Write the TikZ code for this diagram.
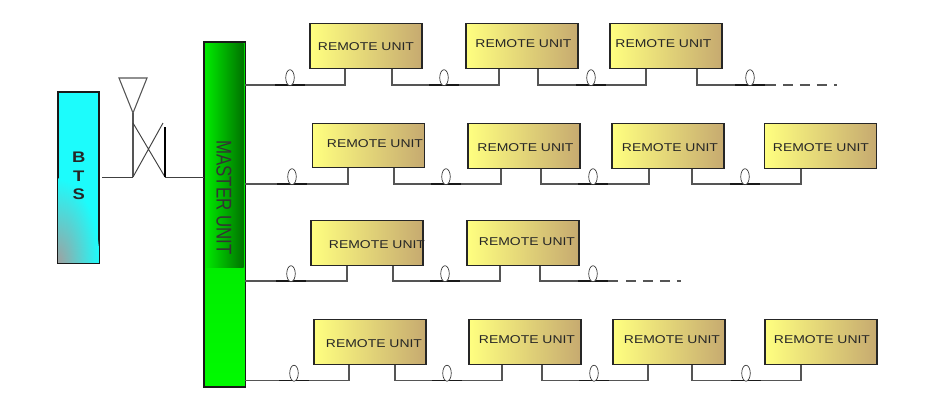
\documentclass[tikz,border=0pt]{standalone}
\usepackage{fontspec}
\setmainfont{Liberation Sans}
\usetikzlibrary{calc,shapes.geometric}
\definecolor{ruy}{RGB}{255,255,128}
\definecolor{rut}{RGB}{198,170,112}
\definecolor{wiregray}{RGB}{85,85,85}
\definecolor{btscyan}{RGB}{28,252,252}
\definecolor{btsgray}{RGB}{160,160,160}
\definecolor{mastera}{RGB}{0,235,0}
\definecolor{mastermid}{RGB}{0,200,0}
\definecolor{masterb}{RGB}{0,115,0}
\definecolor{masterc}{RGB}{0,215,0}
\definecolor{masterd}{RGB}{0,250,0}
\tikzset{
  px/.style={x=0.75pt,y=-0.75pt},
  remote/.style={draw=black!85,line width=0.8pt,minimum width=84pt,minimum height=33.4pt,inner sep=0pt,
     left color=ruy,right color=rut,middle color={ruy!50!rut}},
  rutext/.style={inner sep=0pt,font=\fontsize{8.5pt}{10pt}\selectfont,text=black!85},
  wire/.style={draw=wiregray,line width=0.9pt},
  thinwire/.style={draw=black!75,line width=0.7pt},
  dashwire/.style={draw=wiregray,line width=0.9pt,dash pattern=on 7.5pt off 5.2pt},
  coilbar/.style={draw=black!90,line width=0.9pt},
  coil/.style={ellipse,draw=black!80,line width=0.5pt,fill=white,inner sep=0pt,minimum width=6.4pt,minimum height=12pt},
  tallbox/.style={draw=black!90,line width=0.8pt,inner sep=0pt,minimum width=30.5pt},
}
\newcommand{\rutxt}{\scalebox{1.23}[1]{REMOTE UNIT}}
\newcommand{\unitbox}[5]{%
  \node[remote] (#1) at (#2+56,#3+22) {};
  \node[rutext] (#1t) at (#4,#5) {\rutxt};
}
\newcommand{\coilat}[3]{%
  \draw[coilbar] (#2-15,#3) -- (#2+15,#3);
  \node[coil] (#1) at (#2,#3-7.3) {};
}
\newcommand{\link}[5]{%
 \draw[wire] ($(#1.south)+(#2,0)$) coordinate (lnk) -- (lnk |- 0,#5) -| ($(#3.south)+(#4,0)$);
}
\begin{document}
\begin{tikzpicture}[px]
\useasboundingbox (0,0) rectangle (938,418);
% BTS
\node[tallbox,minimum height=128pt,fill=btscyan] (bts) at (78.5,177.5) {};
\begin{scope}
\clip (bts.south west) rectangle (bts.north east);
\shade[inner color=btsgray,outer color=btscyan] (bts.south west) ellipse [x radius=42,y radius=85];
\end{scope}
\draw[black!90,line width=0.8pt] (bts.south west) rectangle (bts.north east);
\node[inner sep=0pt,align=center,font=\fontsize{11.5pt}{14pt}\selectfont\bfseries,text=black!85] (btst) at (78.7,176) {\scalebox{1.2}[1]{B}\\\scalebox{1.2}[1]{T}\\\scalebox{1.2}[1]{S}};
% Master
\draw[black!30,line width=1pt] (203.3,42) -- (203.3,388);
\node[tallbox,minimum height=258.5pt,top color=masterc,bottom color=masterd] (master) at (224.7,214.5) {};
\shade[left color=mastera,middle color=mastermid,right color=masterb] (205,43) rectangle (243.5,267);
\draw[black!90,line width=0.8pt] (master.south west) rectangle (master.north east);
\node[inner sep=0pt,rotate=-90,font=\fontsize{16pt}{18pt}\selectfont,text=black!80] (mastert) at (224,197.5) {\scalebox{0.79}[1]{MASTER UNIT}};
% Antenna
\coordinate (a1c) at (119,78); \coordinate (a2c) at (147,78); \coordinate (a3c) at (133,113);
\coordinate (ab) at (133,177); \coordinate (ac) at (165,177);
\coordinate (x1) at (133,123); \coordinate (x3) at (163,123); \coordinate (at) at (165,127);
\draw[wiregray,line width=0.8pt] (a1c) -- (a2c) -- (a3c) -- cycle;
\draw[wiregray,line width=0.8pt] (a3c) -- (ab);
\draw[thinwire] (x1) -- (ac) (ab) -- (x3);
\draw[black,line width=0.9pt] (ac) -- (at);
\coordinate (btsout) at (102,177);
\draw[thinwire] (btsout) -- (ab);
\draw[thinwire] (ac) -- (master.west |- ac);
% Remote units
\unitbox{a1}{310}{24}{366}{47}
\unitbox{a2}{466}{24}{523.5}{43.5}
\unitbox{a3}{610}{24}{663.5}{43.5}
\unitbox{b1}{312.5}{123.5}{375}{143.5}
\unitbox{b2}{468}{124}{525.5}{147.5}
\unitbox{b3}{612}{124}{670}{147.5}
\unitbox{b4}{764.5}{124}{821}{147.5}
\unitbox{c1}{311}{221}{377}{245}
\unitbox{c2}{467}{221}{527}{241.5}
\unitbox{d1}{314}{320}{374}{343.5}
\unitbox{d2}{469}{320}{527}{339.5}
\unitbox{d3}{613}{320}{672}{339.5}
\unitbox{d4}{765}{320}{822}{339.5}
% Master outputs
\coordinate (m1) at (245,85); \coordinate (m2) at (245,184);
\coordinate (m3) at (245,281); \coordinate (m4) at (245,380.5);
% Wires
\draw[wire] (m1) -| ($(a1.south)+(-21,0)$);
\link{a1}{26}{a2}{-23}{85}
\link{a2}{16}{a3}{-20}{85}
\coordinate (ae) at (776,85); \coordinate (as) at (783,85); \coordinate (aee) at (837,85);
\draw[wire] ($(a3.south)+(31,0)$) |- (ae);
\draw[dashwire] (as) -- (aee);
\draw[wire] (m2) -| ($(b1.south)+(-20.5,0)$);
\link{b1}{25.5}{b2}{-23}{184}
\link{b2}{17}{b3}{-19}{184}
\link{b3}{24}{b4}{-19.5}{184}
\draw[wire] (m3) -| ($(c1.south)+(-20,0)$);
\link{c1}{26}{c2}{-23}{281}
\coordinate (ce) at (618,281); \coordinate (cs) at (626,281); \coordinate (cee) at (681,281);
\draw[wire] ($(c2.south)+(17,0)$) |- (ce);
\draw[dashwire] (cs) -- (cee);
\draw[wire] (m4) -| ($(d1.south)+(-21,0)$);
\link{d1}{25}{d2}{-23}{380.5}
\link{d2}{17}{d3}{-21}{380.5}
\link{d3}{23}{d4}{-20}{380.5}
% Coils
\coilat{ka1}{290}{85}\coilat{ka2}{444}{85}\coilat{ka3}{591}{85}\coilat{ka4}{750}{85}
\coilat{kb1}{292}{184}\coilat{kb2}{446}{184}\coilat{kb3}{593}{184}\coilat{kb4}{745}{184}
\coilat{kc1}{291}{281}\coilat{kc2}{445}{281}\coilat{kc3}{593}{281}
\coilat{kd1}{294}{380.5}\coilat{kd2}{447}{380.5}\coilat{kd3}{594}{380.5}\coilat{kd4}{746}{380.5}
\end{tikzpicture}
\end{document}
